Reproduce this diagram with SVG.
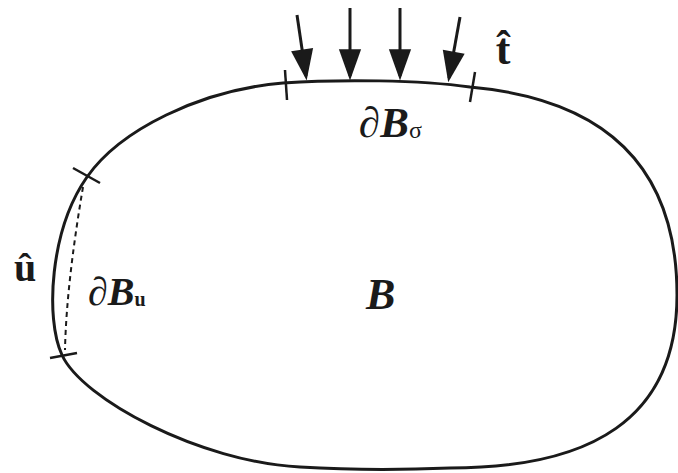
<svg xmlns="http://www.w3.org/2000/svg" width="678" height="473" viewBox="0 0 678 473">
<style>
.outline{fill:none;stroke:#1a1a1a;stroke-width:3}
.dash{fill:none;stroke:#1a1a1a;stroke-width:2;stroke-dasharray:5 4}
.tick{stroke:#1a1a1a;stroke-width:2.5;fill:none}
.arrow{stroke:#1a1a1a;stroke-width:3;fill:none;marker-end:url(#head)}
.t{font-family:"Liberation Serif","Times New Roman",serif;fill:#1a1a1a}
.bi{font-weight:bold;font-style:italic}
.b{font-weight:bold}
</style>
<defs>
<marker id="head" markerUnits="userSpaceOnUse" markerWidth="40" markerHeight="40" viewBox="-30 -12 36 24" refX="0" refY="0" orient="auto">
<path d="M4,0 L-24,-10 L-24,10 Z" fill="#1a1a1a"/>
</marker>
</defs>
<g id="body">
<path class="outline" d="M283,83 C340,79 420,80 470,87 C615,100 677,175 677,295 C677,420 590,468 450,468 C400,470 350,470 300,467 C200,462 82,399 62,355 C45,318 50,230 87,177 C120,130 200,90 283,83 Z"/>
<path class="dash" d="M83,187 C74,240 66,300 65,350"/>
</g>
<g id="ticks">
<line class="tick" x1="73" y1="168" x2="100" y2="183"/>
<line class="tick" x1="50" y1="358" x2="77" y2="353"/>
<line class="tick" x1="285" y1="70" x2="287" y2="100"/>
<line class="tick" x1="475" y1="72" x2="470" y2="102"/>
</g>
<g id="connectors">
<line class="arrow" x1="297" y1="15" x2="306" y2="76"/>
<line class="arrow" x1="350" y1="8" x2="350" y2="76"/>
<line class="arrow" x1="400" y1="8" x2="400" y2="76"/>
<line class="arrow" x1="460" y1="17" x2="449" y2="78"/>
</g>
<g id="labels">
<text class="t b" x="503" y="64" font-size="44" text-anchor="middle">t̂</text>
<text class="t b" x="25" y="281" font-size="40" text-anchor="middle">û</text>
<text class="t" x="359" y="137" font-size="43">∂<tspan class="bi">B</tspan><tspan font-size="24" dy="1">σ</tspan></text>
<text class="t" x="88" y="305" font-size="40">∂<tspan class="bi">B</tspan><tspan class="b" font-size="20" dy="1">u</tspan></text>
<text class="t bi" x="366" y="309" font-size="44">B</text>
</g>
</svg>
